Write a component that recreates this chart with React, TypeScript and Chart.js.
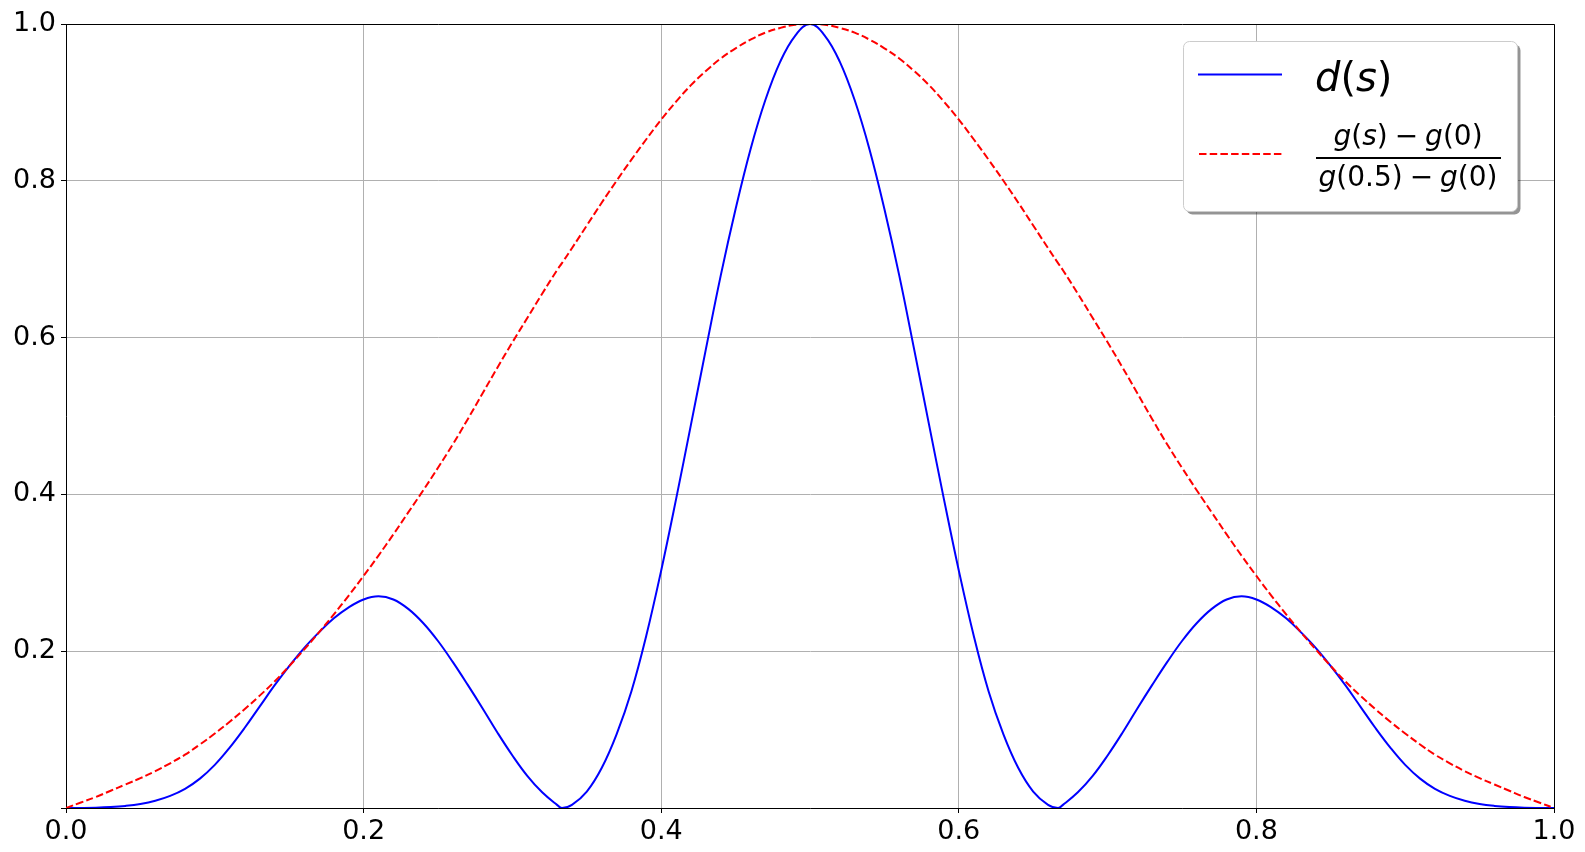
import React, { useEffect, useRef } from 'react';
import { Chart, registerables } from 'chart.js';

Chart.register(...registerables);

// sample positions s
const sValues = [
  0.0, 0.01, 0.02, 0.03, 0.04, 0.05, 0.06, 0.07, 0.08, 0.09,
  0.1, 0.11, 0.12, 0.13, 0.14, 0.15, 0.16, 0.17, 0.18, 0.19,
  0.2, 0.21, 0.22, 0.23, 0.24, 0.25, 0.26, 0.27, 0.28, 0.29,
  0.3, 0.31, 0.32, 0.33, 0.3333, 0.34, 0.35, 0.36, 0.37, 0.38, 0.39,
  0.4, 0.41, 0.42, 0.43, 0.44, 0.45, 0.46, 0.47, 0.48, 0.49,
  0.5, 0.51, 0.52, 0.53, 0.54, 0.55, 0.56, 0.57, 0.58, 0.59,
  0.6, 0.61, 0.62, 0.63, 0.64, 0.65, 0.66, 0.6667, 0.67, 0.68, 0.69,
  0.7, 0.71, 0.72, 0.73, 0.74, 0.75, 0.76, 0.77, 0.78, 0.79,
  0.8, 0.81, 0.82, 0.83, 0.84, 0.85, 0.86, 0.87, 0.88, 0.89,
  0.9, 0.91, 0.92, 0.93, 0.94, 0.95, 0.96, 0.97, 0.98, 0.99, 1.0,
];

// d(s) – blue solid
const dValues = [
  0, 0.0001, 0.0004, 0.0012, 0.0027, 0.0052, 0.0093, 0.0155, 0.0245, 0.0375,
  0.055, 0.077, 0.102, 0.129, 0.156, 0.181, 0.204, 0.224, 0.242, 0.256,
  0.266, 0.27, 0.266, 0.254, 0.236, 0.213, 0.186, 0.157, 0.127, 0.096,
  0.067, 0.041, 0.02, 0.004, 0, 0.004, 0.021, 0.051, 0.094, 0.149, 0.22,
  0.303, 0.394, 0.489, 0.585, 0.679, 0.764, 0.84, 0.903, 0.952, 0.985,
  1.0, 0.985, 0.952, 0.903, 0.84, 0.764, 0.679, 0.585, 0.489, 0.394,
  0.303, 0.22, 0.149, 0.094, 0.051, 0.021, 0.004, 0, 0.004, 0.02, 0.041,
  0.067, 0.096, 0.127, 0.157, 0.186, 0.213, 0.236, 0.254, 0.266, 0.27,
  0.266, 0.256, 0.242, 0.224, 0.204, 0.181, 0.156, 0.129, 0.102, 0.077,
  0.055, 0.0375, 0.0245, 0.0155, 0.0093, 0.0052, 0.0027, 0.0012, 0.0004, 0.0001, 0,
];

// (g(s) - g(0)) / (g(0.5) - g(0)) – red dashed
const gRatioValues = [
  0, 0.007, 0.014, 0.022, 0.03, 0.038, 0.047, 0.057, 0.068, 0.081,
  0.095, 0.11, 0.126, 0.143, 0.161, 0.181, 0.202, 0.224, 0.247, 0.271,
  0.296, 0.322, 0.349, 0.377, 0.405, 0.434, 0.464, 0.496, 0.529, 0.562,
  0.594, 0.625, 0.656, 0.686, 0.695, 0.714, 0.743, 0.772, 0.8, 0.827, 0.853,
  0.878, 0.901, 0.922, 0.94, 0.956, 0.969, 0.98, 0.989, 0.995, 0.999,
  1.0, 0.999, 0.995, 0.989, 0.98, 0.969, 0.956, 0.94, 0.922, 0.901,
  0.878, 0.853, 0.827, 0.8, 0.772, 0.743, 0.714, 0.695, 0.686, 0.656, 0.625,
  0.594, 0.562, 0.529, 0.496, 0.464, 0.434, 0.405, 0.377, 0.349, 0.322,
  0.296, 0.271, 0.247, 0.224, 0.202, 0.181, 0.161, 0.143, 0.126, 0.11,
  0.095, 0.081, 0.068, 0.057, 0.047, 0.038, 0.03, 0.022, 0.014, 0.007, 0,
];

const xTickValues = [0, 0.2, 0.4, 0.6, 0.8, 1.0];
const xTickLabels = ['0.0', '0.2', '0.4', '0.6', '0.8', '1.0'];
const yTickValues = [0, 0.2, 0.4, 0.6, 0.8, 1.0];
const yTickLabels = ['', '0.2', '0.4', '0.6', '0.8', '1.0'];

const FONT = '"DejaVu Sans", "Liberation Sans", sans-serif';

type Run = { t: string; it?: boolean; gap?: number };

function drawRuns(ctx: CanvasRenderingContext2D, runs: Run[], x: number, y: number, size: number, align: 'left' | 'center') {
  const fontFor = (it?: boolean) => `${it ? 'italic ' : ''}${size}px ${FONT}`;
  const widths = runs.map((r) => {
    if (r.gap) return r.gap * size;
    ctx.font = fontFor(r.it);
    return ctx.measureText(r.t).width;
  });
  const total = widths.reduce((a, b) => a + b, 0);
  let cx = align === 'center' ? x - total / 2 : x;
  ctx.textBaseline = 'alphabetic';
  ctx.textAlign = 'left';
  runs.forEach((r, i) => {
    if (!r.gap) {
      ctx.font = fontFor(r.it);
      ctx.fillText(r.t, cx, y);
    }
    cx += widths[i];
  });
}

function roundRect(ctx: CanvasRenderingContext2D, x: number, y: number, w: number, h: number, r: number) {
  ctx.beginPath();
  ctx.moveTo(x + r, y);
  ctx.lineTo(x + w - r, y);
  ctx.arcTo(x + w, y, x + w, y + r, r);
  ctx.lineTo(x + w, y + h - r);
  ctx.arcTo(x + w, y + h, x + w - r, y + h, r);
  ctx.lineTo(x + r, y + h);
  ctx.arcTo(x, y + h, x, y + h - r, r);
  ctx.lineTo(x, y + r);
  ctx.arcTo(x, y, x + r, y, r);
  ctx.closePath();
}

const framePlugin = {
  id: 'frameAndLegend',
  afterDraw(chart: any) {
    const ctx: CanvasRenderingContext2D = chart.ctx;
    const a = chart.chartArea;
    ctx.save();
    // top and right spines
    ctx.strokeStyle = '#000';
    ctx.lineWidth = 1;
    ctx.beginPath();
    ctx.moveTo(Math.round(a.left) + 0.5, Math.round(a.top) + 0.5);
    ctx.lineTo(Math.round(a.right) + 0.5, Math.round(a.top) + 0.5);
    ctx.lineTo(Math.round(a.right) + 0.5, Math.round(a.bottom) + 0.5);
    ctx.stroke();

    // legend box with shadow
    const bx = 1183.5, by = 41.5, bw = 334, bh = 170, br = 6;
    ctx.fillStyle = 'rgba(0,0,0,0.42)';
    roundRect(ctx, bx + 3, by + 3, bw, bh, br);
    ctx.fill();
    ctx.fillStyle = '#ffffff';
    roundRect(ctx, bx, by, bw, bh, br);
    ctx.fill();
    ctx.strokeStyle = '#cccccc';
    ctx.lineWidth = 1;
    roundRect(ctx, bx, by, bw, bh, br);
    ctx.stroke();

    // legend handles
    const ds = chart.data.datasets;
    const blue = ds.find((d: any) => d.label === 'd(s)');
    const red = ds.find((d: any) => d.label !== 'd(s)');
    ctx.lineWidth = 2;
    ctx.strokeStyle = blue.borderColor;
    ctx.setLineDash([]);
    ctx.beginPath();
    ctx.moveTo(1198, 74.5);
    ctx.lineTo(1282, 74.5);
    ctx.stroke();
    ctx.strokeStyle = red.borderColor;
    ctx.setLineDash(red.borderDash);
    ctx.beginPath();
    ctx.moveTo(1199, 154);
    ctx.lineTo(1282, 154);
    ctx.stroke();
    ctx.setLineDash([]);

    // legend labels
    ctx.fillStyle = '#000';
    drawRuns(ctx, [{ t: 'd', it: true }, { t: '(' }, { t: 's', it: true }, { t: ')' }], 1315, 91, 40, 'left');
    const cx = 1408;
    drawRuns(
      ctx,
      [
        { t: 'g', it: true }, { t: '(' }, { t: 's', it: true }, { t: ')' },
        { t: '', gap: 0.25 }, { t: '\u2212' }, { t: '', gap: 0.25 },
        { t: 'g', it: true }, { t: '(0)' },
      ],
      cx, 145, 28, 'center'
    );
    ctx.fillRect(1316, 157, 185, 2);
    drawRuns(
      ctx,
      [
        { t: 'g', it: true }, { t: '(0.5)' },
        { t: '', gap: 0.25 }, { t: '\u2212' }, { t: '', gap: 0.25 },
        { t: 'g', it: true }, { t: '(0)' },
      ],
      cx, 186, 28, 'center'
    );
    ctx.restore();
  },
};

export default function App() {
  const canvasRef = useRef<HTMLCanvasElement | null>(null);

  useEffect(() => {
    const canvas = canvasRef.current;
    if (!canvas) return;
    const tickFont = { family: FONT, size: 27 };
    const chart = new Chart(canvas, {
      type: 'line',
      data: {
        datasets: [
          {
            label: 'd(s)',
            data: sValues.map((s, i) => ({ x: s, y: dValues[i] })),
            borderColor: '#0000ff',
            borderWidth: 2,
            pointRadius: 0,
            fill: false,
            tension: 0.4,
            order: 2,
          },
          {
            label: '(g(s) - g(0)) / (g(0.5) - g(0))',
            data: sValues.map((s, i) => ({ x: s, y: gRatioValues[i] })),
            borderColor: '#ff0000',
            borderWidth: 2,
            borderDash: [7.5, 3.2],
            pointRadius: 0,
            fill: false,
            tension: 0.4,
            order: 1,
          },
        ],
      },
      options: {
        responsive: false,
        maintainAspectRatio: false,
        devicePixelRatio: 1,
        animation: false,
        events: [],
        layout: { padding: { top: 24, right: 31, bottom: 0, left: 0 } },
        plugins: {
          legend: { display: false },
          tooltip: { enabled: false },
          title: { display: false },
        },
        scales: {
          x: {
            type: 'linear',
            min: 0,
            max: 1,
            afterBuildTicks: (scale: any) => {
              scale.ticks = xTickValues.map((v) => ({ value: v }));
            },
            afterFit: (scale: any) => {
              scale.height = 44;
            },
            ticks: {
              callback: (v: any) => xTickLabels[xTickValues.findIndex((t) => Math.abs(t - Number(v)) < 1e-6)] ?? '',
              font: tickFont,
              color: '#000',
              padding: 3,
              maxRotation: 0,
              autoSkip: false,
            },
            grid: { color: '#b0b0b0', lineWidth: 1, tickLength: 5, tickColor: '#000', tickWidth: 1 },
            border: { display: true, color: '#000', width: 1 },
          },
          y: {
            type: 'linear',
            min: 0,
            max: 1,
            afterBuildTicks: (scale: any) => {
              scale.ticks = yTickValues.map((v) => ({ value: v }));
            },
            afterFit: (scale: any) => {
              scale.width = 66;
            },
            ticks: {
              callback: (v: any) => yTickLabels[yTickValues.findIndex((t) => Math.abs(t - Number(v)) < 1e-6)] ?? '',
              font: tickFont,
              color: '#000',
              padding: 5,
              autoSkip: false,
            },
            grid: { color: '#b0b0b0', lineWidth: 1, tickLength: 5, tickColor: '#000', tickWidth: 1 },
            border: { display: true, color: '#000', width: 1 },
          },
        },
      },
      plugins: [framePlugin],
    } as any);
    return () => chart.destroy();
  }, []);

  return (
    <div style={{ position: 'fixed', left: 0, top: 0, width: 1585, height: 852, background: '#ffffff' }}>
      <canvas ref={canvasRef} width={1585} height={852} style={{ display: 'block', width: 1585, height: 852 }} />
    </div>
  );
}
